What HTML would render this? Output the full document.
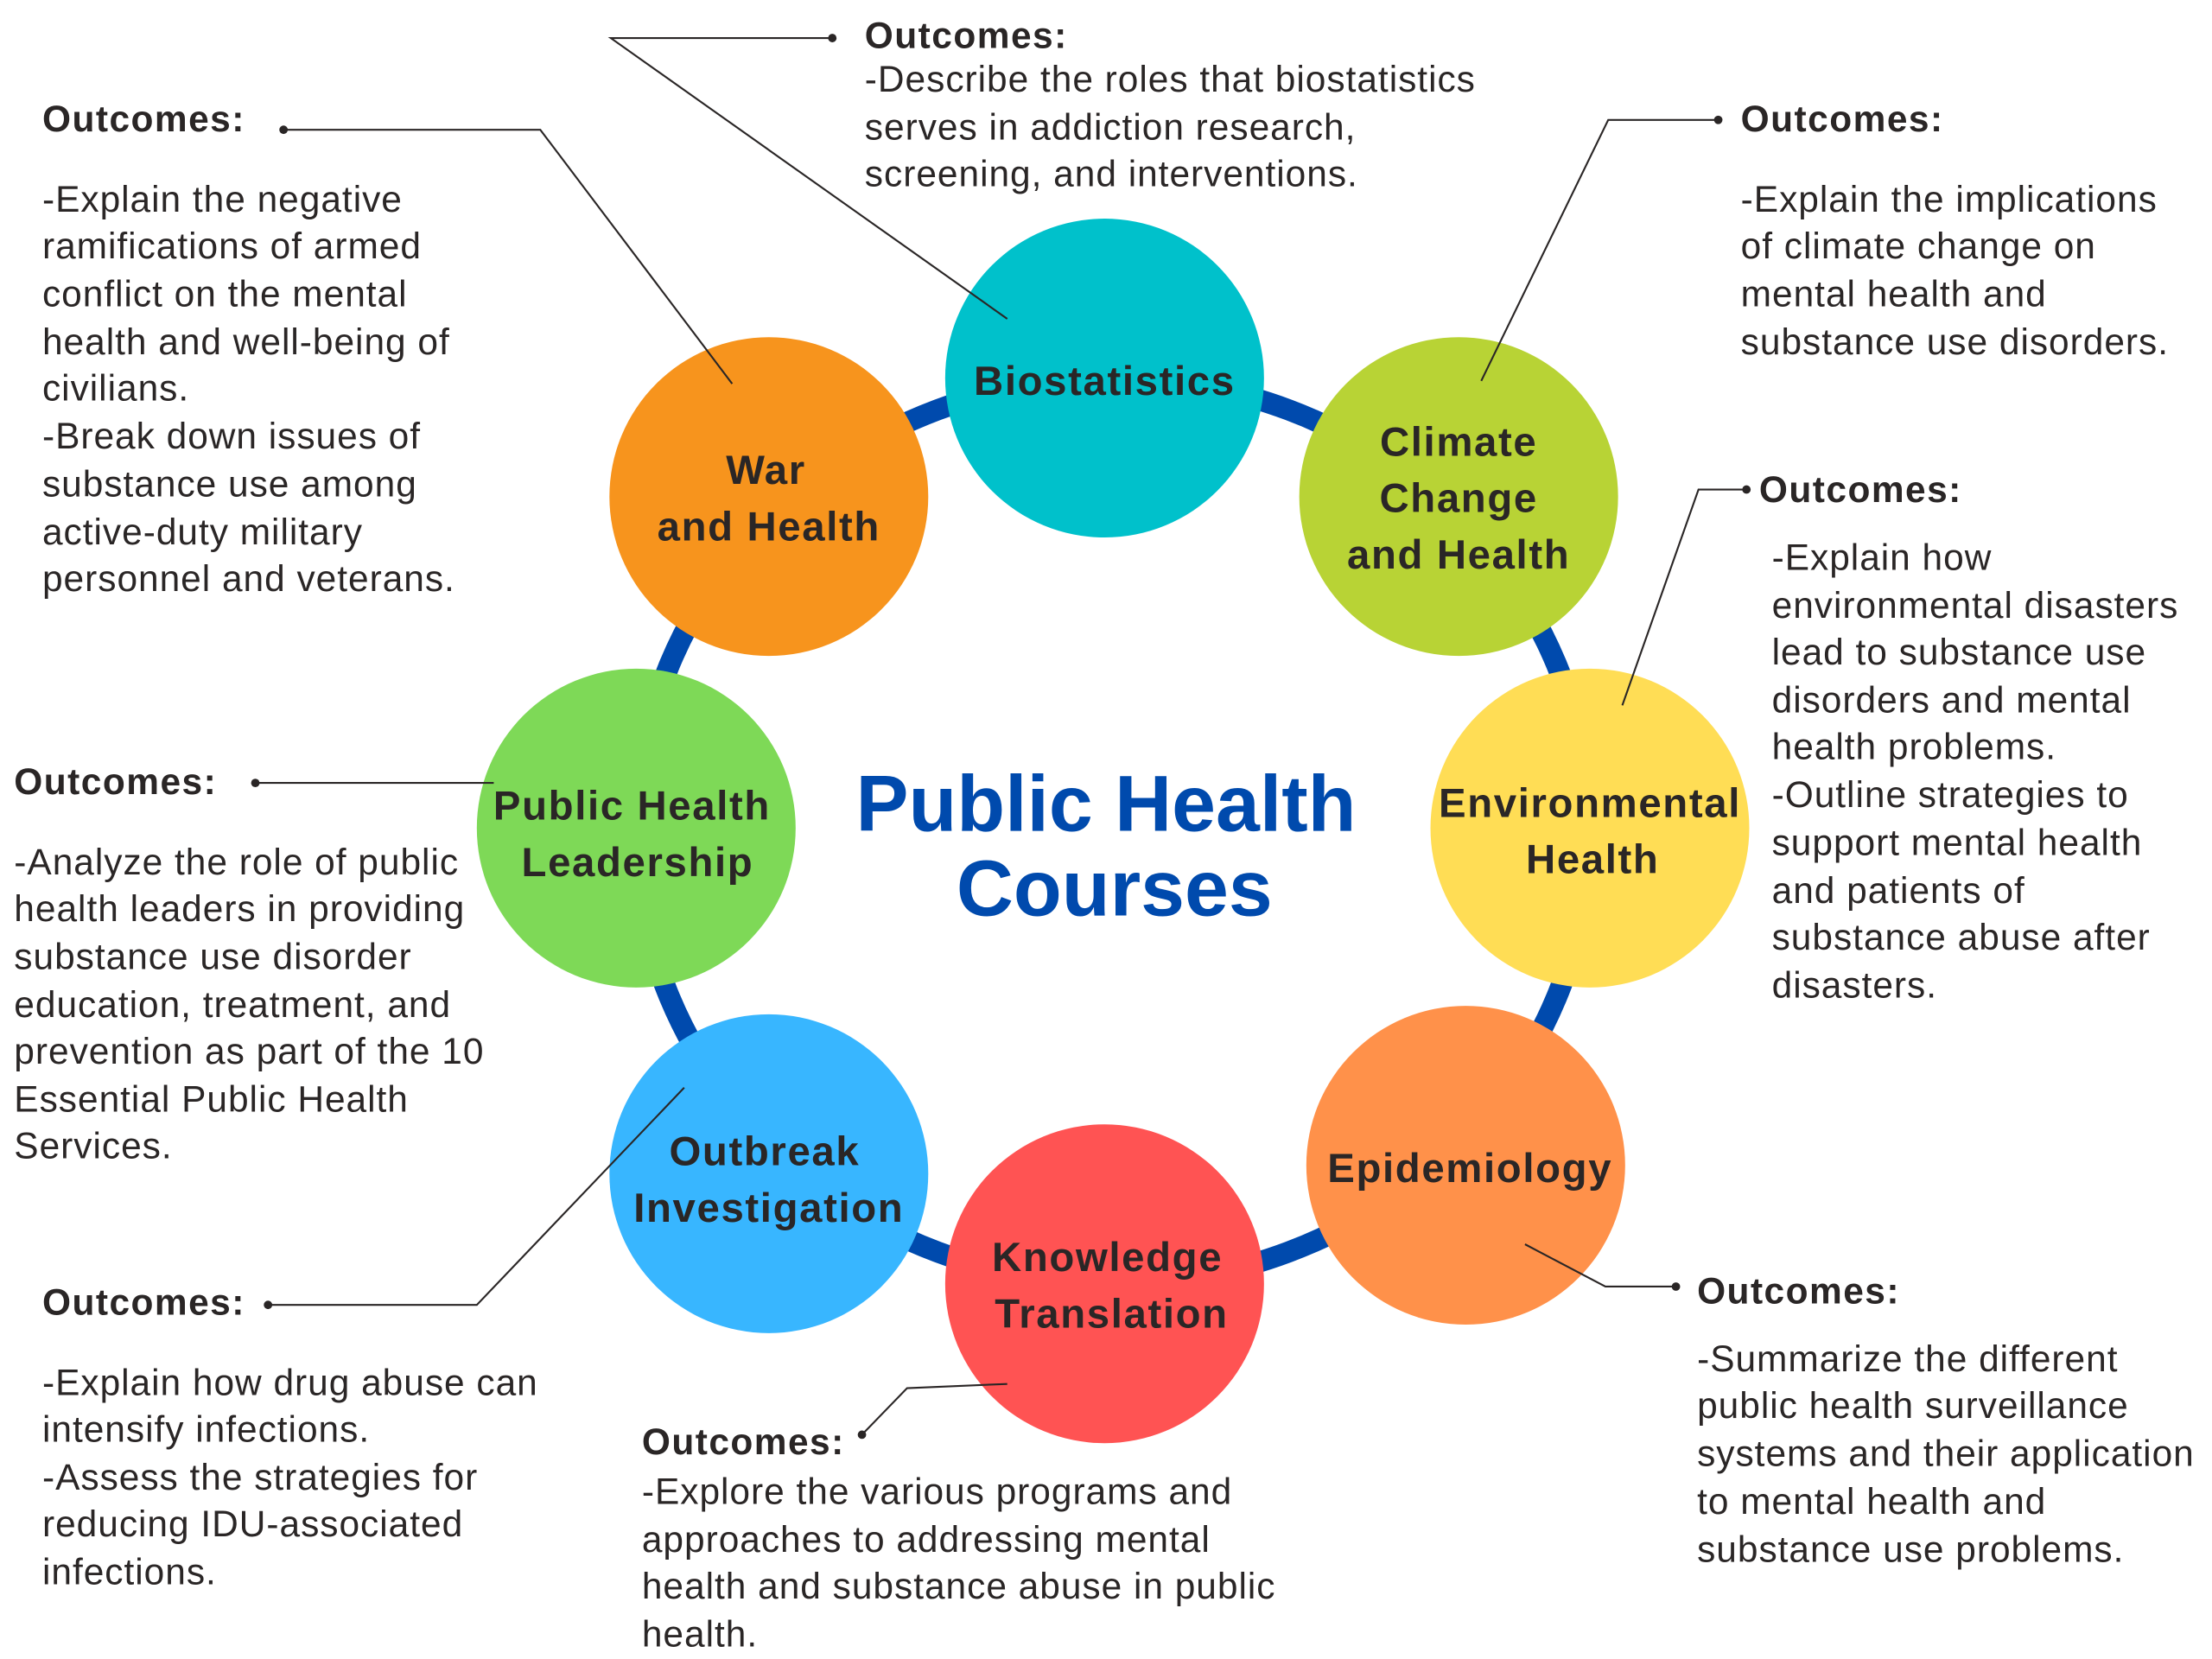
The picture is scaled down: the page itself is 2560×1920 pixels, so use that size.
<!DOCTYPE html>
<html><head><meta charset="utf-8"><style>
html,body{margin:0;padding:0;background:#fff;}
svg{display:block;}
text{font-family:"Liberation Sans",sans-serif;fill:#2a2626;}
.o{font-weight:bold;font-size:26px;letter-spacing:0.9px;}
.t{font-size:26px;letter-spacing:0.6px;}
.c{font-weight:bold;font-size:29px;letter-spacing:1px;text-anchor:middle;}
</style></head><body>
<svg width="2560" height="1920" viewBox="0 0 1568 1176" xmlns="http://www.w3.org/2000/svg">
<rect width="1568" height="1176" fill="#fff"/>
<ellipse cx="789" cy="589" rx="338" ry="321" fill="none" stroke="#004AAD" stroke-width="15"/>
<circle cx="783" cy="268" r="113" fill="#00C1CB"/>
<circle cx="1034" cy="352" r="113" fill="#B8D335"/>
<circle cx="1127" cy="587" r="113" fill="#FFDD55"/>
<circle cx="1039" cy="826" r="113" fill="#FF914A"/>
<circle cx="783" cy="910" r="113" fill="#FF5353"/>
<circle cx="545" cy="832" r="113" fill="#38B6FF"/>
<circle cx="451" cy="587" r="113" fill="#7ED957"/>
<circle cx="545" cy="352" r="113" fill="#F7941D"/>

<text class="c" x="783" y="280">Biostatistics</text>
<text class="c" x="1034" y="323">Climate</text>
<text class="c" x="1034" y="363">Change</text>
<text class="c" x="1034" y="403">and Health</text>
<text class="c" x="1127" y="579">Environmental</text>
<text class="c" x="1129" y="619">Health</text>
<text class="c" x="1042" y="838">Epidemiology</text>
<text class="c" x="785" y="901">Knowledge</text>
<text class="c" x="788" y="941">Translation</text>
<text class="c" x="542" y="826">Outbreak</text>
<text class="c" x="545" y="866">Investigation</text>
<text class="c" x="448" y="581">Public Health</text>
<text class="c" x="452" y="621">Leadership</text>
<text class="c" x="543" y="343">War</text>
<text class="c" x="545" y="383">and Health</text>

<text x="784" y="589" text-anchor="middle" style="font-weight:bold;font-size:56px;fill:#004AAD">Public Health</text>
<text x="790" y="649" text-anchor="middle" style="font-weight:bold;font-size:56px;fill:#004AAD">Courses</text>

<g stroke="#2a2626" stroke-width="1.3" fill="none">
<polyline points="590,27 433,27 714,226"/>
<polyline points="201,92 383,92 519,272"/>
<polyline points="1218,85 1140,85 1050,270"/>
<polyline points="1238,347 1204,347 1150,500"/>
<polyline points="181,555 350,555"/>
<polyline points="190,925 338,925 485,771"/>
<polyline points="611,1017 643,984 714,981"/>
<polyline points="1188,912 1138,912 1081,882"/>
</g>
<g fill="#2a2626">
<circle cx="590" cy="27" r="3"/><circle cx="201" cy="92" r="3"/><circle cx="1218" cy="85" r="3"/>
<circle cx="1238" cy="347" r="3"/><circle cx="181" cy="555" r="3"/><circle cx="190" cy="925" r="3"/>
<circle cx="611" cy="1017" r="3"/><circle cx="1188" cy="912" r="3"/>
</g>

<text class="o" x="613" y="34">Outcomes:</text>
<text class="t" x="613" y="65">-Describe the roles that biostatistics</text>
<text class="t" x="613" y="99">serves in addiction research,</text>
<text class="t" x="613" y="132">screening, and interventions.</text>

<text class="o" x="30" y="93">Outcomes:</text>
<text class="t" x="30" y="150">-Explain the negative</text>
<text class="t" x="30" y="183">ramifications of armed</text>
<text class="t" x="30" y="217">conflict on the mental</text>
<text class="t" x="30" y="251">health and well-being of</text>
<text class="t" x="30" y="284">civilians.</text>
<text class="t" x="30" y="318">-Break down issues of</text>
<text class="t" x="30" y="352">substance use among</text>
<text class="t" x="30" y="386">active-duty military</text>
<text class="t" x="30" y="419">personnel and veterans.</text>

<text class="o" x="1234" y="93">Outcomes:</text>
<text class="t" x="1234" y="150">-Explain the implications</text>
<text class="t" x="1234" y="183">of climate change on</text>
<text class="t" x="1234" y="217">mental health and</text>
<text class="t" x="1234" y="251">substance use disorders.</text>

<text class="o" x="1247" y="356">Outcomes:</text>
<text class="t" x="1256" y="404">-Explain how</text>
<text class="t" x="1256" y="438">environmental disasters</text>
<text class="t" x="1256" y="471">lead to substance use</text>
<text class="t" x="1256" y="505">disorders and mental</text>
<text class="t" x="1256" y="538">health problems.</text>
<text class="t" x="1256" y="572">-Outline strategies to</text>
<text class="t" x="1256" y="606">support mental health</text>
<text class="t" x="1256" y="640">and patients of</text>
<text class="t" x="1256" y="673">substance abuse after</text>
<text class="t" x="1256" y="707">disasters.</text>

<text class="o" x="10" y="563">Outcomes:</text>
<text class="t" x="10" y="620">-Analyze the role of public</text>
<text class="t" x="10" y="653">health leaders in providing</text>
<text class="t" x="10" y="687">substance use disorder</text>
<text class="t" x="10" y="721">education, treatment, and</text>
<text class="t" x="10" y="754">prevention as part of the 10</text>
<text class="t" x="10" y="788">Essential Public Health</text>
<text class="t" x="10" y="821">Services.</text>

<text class="o" x="30" y="932">Outcomes:</text>
<text class="t" x="30" y="989">-Explain how drug abuse can</text>
<text class="t" x="30" y="1022">intensify infections.</text>
<text class="t" x="30" y="1056">-Assess the strategies for</text>
<text class="t" x="30" y="1089">reducing IDU-associated</text>
<text class="t" x="30" y="1123">infections.</text>

<text class="o" x="455" y="1031">Outcomes:</text>
<text class="t" x="455" y="1066">-Explore the various programs and</text>
<text class="t" x="455" y="1100">approaches to addressing mental</text>
<text class="t" x="455" y="1133">health and substance abuse in public</text>
<text class="t" x="455" y="1167">health.</text>

<text class="o" x="1203" y="924">Outcomes:</text>
<text class="t" x="1203" y="972">-Summarize the different</text>
<text class="t" x="1203" y="1005">public health surveillance</text>
<text class="t" x="1203" y="1039">systems and their application</text>
<text class="t" x="1203" y="1073">to mental health and</text>
<text class="t" x="1203" y="1107">substance use problems.</text>
</svg>
</body></html>
